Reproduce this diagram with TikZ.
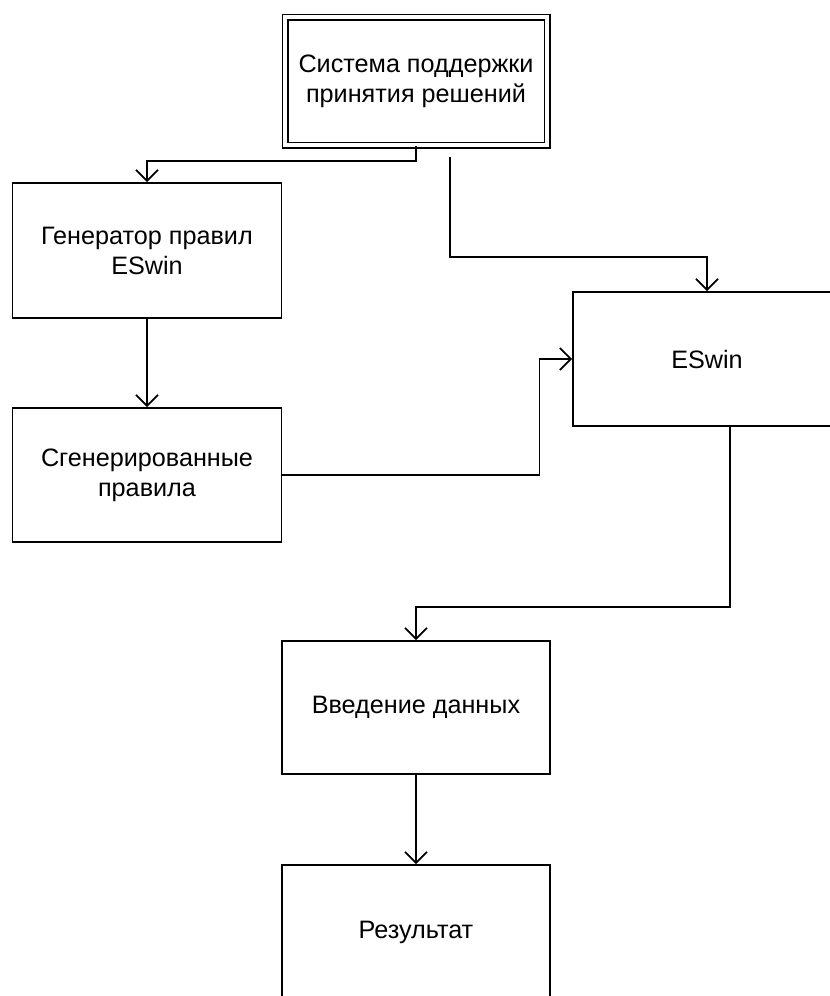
\documentclass[tikz,border=0pt]{standalone}
\usepackage{fontspec}
\setmainfont{Liberation Sans}
\usetikzlibrary{arrows.meta}
\begin{document}
\begin{tikzpicture}[x=1pt,y=-1pt,
  box/.style={draw,line width=1.8pt,rectangle,inner sep=0pt,align=center,
    font=\fontsize{25.2}{30}\selectfont},
  arr/.style={line width=1.8pt,-{Straight Barb[length=11pt,width=22pt,line width=1.8pt]}}]
\useasboundingbox (0,0) rectangle (830,996);
\clip (0,0) rectangle (830,996);
\node[box,double,line width=1.6pt,double distance=3.8pt,minimum width=262pt,minimum height=128pt] (top) at (416,81) {Система поддержки\\принятия решений};
\node[box,minimum width=269pt,minimum height=135pt] (gen) at (147,250.5) {Генератор правил\\ESwin};
\node[box,minimum width=269pt,minimum height=134pt] (sgen) at (147,475) {Сгенерированные\\правила};
\node[box,minimum width=268pt,minimum height=134pt] (eswin) at (707,359) {ESwin};
\node[box,minimum width=268pt,minimum height=133pt] (vved) at (416,707.5) {Введение данных};
\node[box,minimum width=268pt,minimum height=135pt] (res) at (416,932.5) {Результат};
\coordinate (s) at (450,157);
\coordinate (k) at (450,257);
\coordinate (e) at (730,426);
\draw[arr] (top.south) -- ++(0,15) -| (gen.north);
\draw[arr] (s) -- (k) -| (eswin.north);
\draw[arr] (gen.south) -- (sgen.north);
\draw[arr] (sgen.east) -- ++(257,0) |- (eswin.west);
\draw[arr] (e) -- ++(0,181) -| (vved.north);
\draw[arr] (vved.south) -- (res.north);
\end{tikzpicture}
\end{document}
